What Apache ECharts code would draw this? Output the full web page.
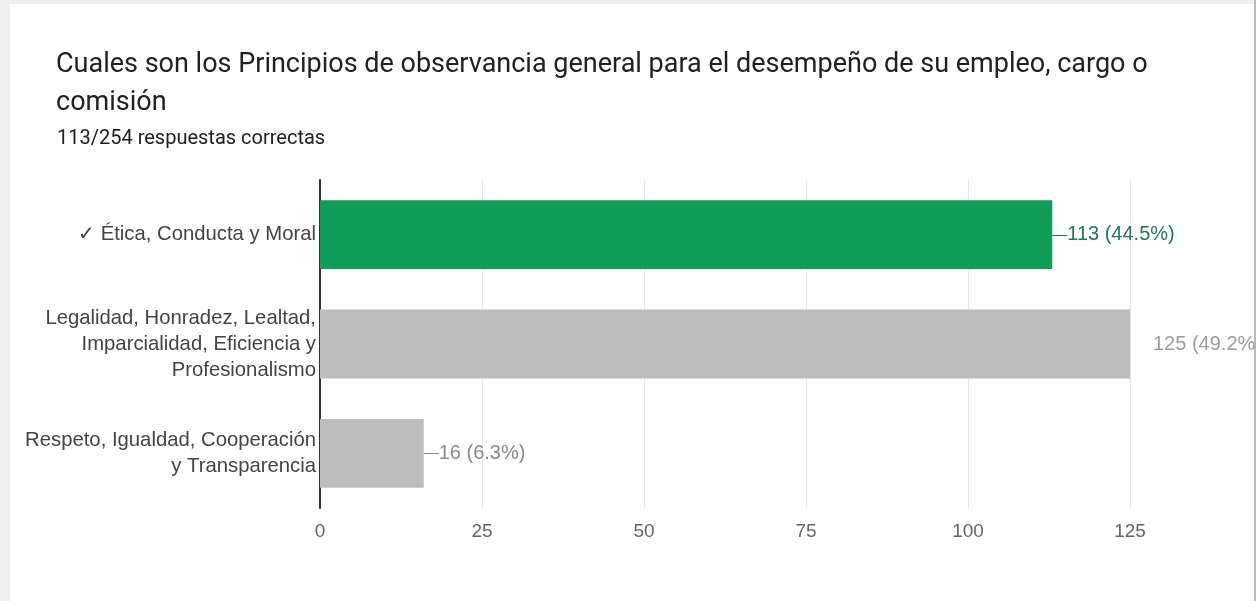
<!DOCTYPE html>
<html><head><meta charset="utf-8">
<script src="https://cdn.jsdelivr.net/npm/echarts@6/dist/echarts.min.js"></script>
<style>
html,body{margin:0;padding:0;background:#efefef;width:1256px;height:601px;overflow:hidden;}
#card{position:absolute;left:10px;top:4px;width:1244px;height:597px;background:#fff;}
#edge{position:absolute;left:1254px;top:0;width:2px;height:601px;background:#bbb;}
#c{position:absolute;left:0;top:0;width:1256px;height:601px;}
</style></head><body>
<div id="card"></div><div id="edge"></div>
<div id="c"></div>
<script>
const titleText = 'Cuales son los Principios de observancia general para el desempeño de su empleo, cargo o\ncomisión';
const subtitleText = '113/254 respuestas correctas';
const categories = [
  '✓ Ética, Conducta y Moral',
  'Legalidad, Honradez, Lealtad,\nImparcialidad, Eficiencia y\nProfesionalismo',
  'Respeto, Igualdad, Cooperación\ny Transparencia'
];
const counts = [113, 125, 16];
const percents = ['44.5%', '49.2%', '6.3%'];
const xTicks = [0, 25, 50, 75, 100, 125];

const barColors = ['#0f9d58', '#bdbdbd', '#bdbdbd'];
const labelColors = ['#1e7a55', '#9e9e9e', '#8a8a8a'];
const leader = [true, false, true];
const ARIAL = '"Liberation Sans", Arial, sans-serif';

const chart = echarts.init(document.getElementById('c'));
chart.setOption({
  backgroundColor: 'transparent',
  textStyle: {fontFamily: ARIAL},
  title: [
    {text: titleText, left: 51, top: 41,
     textStyle: {fontFamily: 'Roboto', fontSize: 27, fontWeight: 'normal', color: '#202124', lineHeight: 38}},
    {text: subtitleText, left: 52, top: 124,
     textStyle: {fontFamily: 'Roboto', fontSize: 20, fontWeight: 'normal', color: '#202124'}}
  ],
  grid: {left: 320, right: 126, top: 180, bottom: 93, containLabel: false},
  xAxis: {
    type: 'value', min: xTicks[0], max: xTicks[xTicks.length - 1], interval: 25,
    axisLine: {show: false}, axisTick: {show: false},
    splitLine: {lineStyle: {color: '#e8e8e8', width: 1}},
    axisLabel: {color: '#666', fontSize: 19, margin: 14, fontFamily: ARIAL}
  },
  yAxis: {
    type: 'category', data: categories, inverse: true,
    axisLine: {lineStyle: {color: '#333', width: 2}},
    axisTick: {show: false},
    axisLabel: {color: '#444', fontSize: 20.3, lineHeight: 26, margin: 4, align: 'right', fontFamily: ARIAL}
  },
  series: [{
    type: 'bar',
    barCategoryGap: '37%',
    data: counts.map((v, i) => ({
      value: v,
      itemStyle: {color: barColors[i]},
      label: {
        show: true, position: 'right', distance: leader[i] ? 0 : 23,
        formatter: (leader[i] ? '{l|—}' : '') + '{v|' + v + ' (' + percents[i] + ')}',
        rich: {
          l: {color: labelColors[i], fontSize: 15, fontFamily: ARIAL},
          v: {color: labelColors[i], fontSize: 20, fontFamily: ARIAL}
        }
      }
    })),
    animation: false
  }],
  animation: false
});
</script>
</body></html>
